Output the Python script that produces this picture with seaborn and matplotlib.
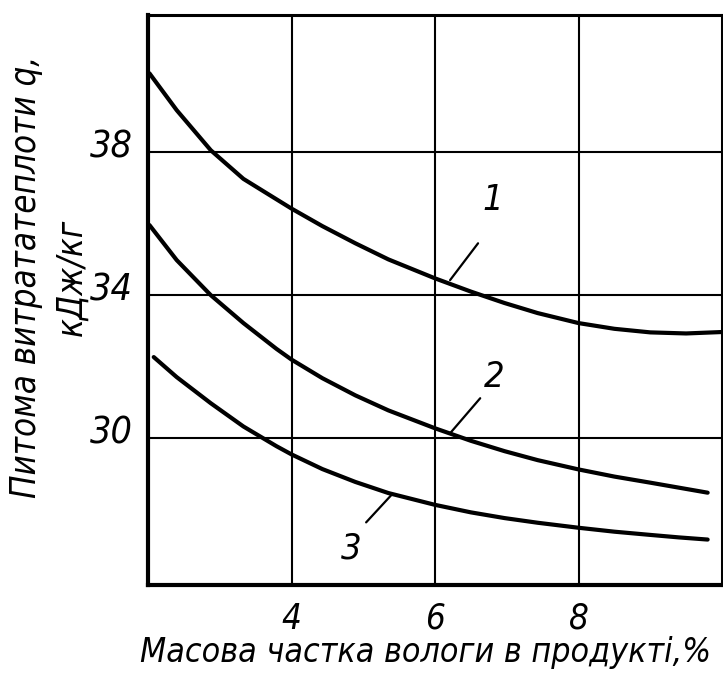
import matplotlib
matplotlib.use("Agg")
import matplotlib.pyplot as plt
import matplotlib.transforms as mtransforms
from matplotlib import font_manager as fm
import seaborn as sns
import pandas as pd

# ---- data ----
x_curve1 = [2.02, 2.4, 2.875, 3.33, 3.79, 4.0, 4.43, 4.89, 5.35, 6.0, 6.5, 6.97, 7.43, 8.0, 8.5, 9.0, 9.5, 10.0]
y_curve1 = [40.2, 39.17, 38.05, 37.25, 36.68, 36.42, 35.93, 35.45, 35.0, 34.47, 34.1, 33.78, 33.5, 33.22, 33.06, 32.96, 32.93, 32.97]

x_curve2 = [2.02, 2.4, 2.875, 3.33, 3.79, 4.0, 4.43, 4.89, 5.35, 6.0, 6.5, 6.97, 7.43, 8.0, 8.5, 9.0, 9.4, 9.8]
y_curve2 = [35.96, 34.98, 34.0, 33.22, 32.5, 32.2, 31.68, 31.2, 30.78, 30.28, 29.93, 29.64, 29.39, 29.13, 28.93, 28.76, 28.62, 28.48]

x_curve3 = [2.08, 2.4, 2.875, 3.33, 3.79, 4.0, 4.43, 4.89, 5.35, 6.0, 6.5, 6.97, 7.43, 8.0, 8.5, 9.0, 9.4, 9.8]
y_curve3 = [32.27, 31.71, 30.98, 30.33, 29.78, 29.55, 29.14, 28.78, 28.47, 28.14, 27.93, 27.77, 27.64, 27.5, 27.39, 27.3, 27.23, 27.17]

curve_labels = ["1", "2", "3"]
x_ticks = [4, 6, 8]
y_ticks = [30, 34, 38]
x_title = "Масова частка вологи в продукті,%"
y_title = "Питома витрататеплоти q,\nкДж/кг"

sns.set_style("white")

# pick a condensed face if one is installed
names = {f.name for f in fm.fontManager.ttflist}
family = "DejaVu Sans"
stretch = "normal"
cond = [f for f in fm.fontManager.ttflist
        if str(f.stretch) in ("condensed", "semi-condensed", "extra-condensed")
        or (isinstance(f.stretch, int) and f.stretch < 500)]
if "Liberation Sans Narrow" in names:
    family, stretch = "Liberation Sans Narrow", "normal"
elif any(f.name == "DejaVu Sans" for f in cond):
    family, stretch = "DejaVu Sans", "condensed"
elif cond:
    family, stretch = cond[0].name, cond[0].stretch
narrow = family != "DejaVu Sans" or stretch != "normal"
k = 1.0 if narrow else 0.88

plt.rcParams["font.family"] = [family, "DejaVu Sans"]
plt.rcParams["font.style"] = "italic"
plt.rcParams["font.stretch"] = stretch
plt.rcParams["text.color"] = "black"
plt.rcParams["xtick.color"] = "black"
plt.rcParams["ytick.color"] = "black"
plt.rcParams["axes.labelcolor"] = "black"

fig = plt.figure(figsize=(7.23, 6.73), dpi=100)
ax = fig.add_axes([148 / 723, 1 - 585 / 673, (722 - 148) / 723, (585 - 15) / 673])

for xs, ys in [(x_curve1, y_curve1), (x_curve2, y_curve2), (x_curve3, y_curve3)]:
    df = pd.DataFrame({"x": xs, "y": ys})
    sns.lineplot(data=df, x="x", y="y", ax=ax, color="black", linewidth=3.0,
                 sort=False, zorder=3, solid_capstyle="round", solid_joinstyle="round")

ax.set_xlim(2, 10)
ax.set_ylim(25.9, 41.83)
ax.set_xticks(x_ticks)
ax.set_yticks(y_ticks)
ax.set_xticklabels([str(t) for t in x_ticks], fontsize=25 * k)
ax.set_yticklabels([str(t) for t in y_ticks], fontsize=27 * k)
ax.tick_params(axis="both", length=0)
ax.tick_params(axis="x", pad=12)
ax.tick_params(axis="y", pad=11)
shift = mtransforms.ScaledTranslation(0, 6 / 72, fig.dpi_scale_trans)
for lab in ax.get_yticklabels():
    lab.set_transform(lab.get_transform() + shift)
ax.grid(True, color="black", linewidth=1.5)
ax.set_axisbelow(True)

for side, lw in [("left", 3.0), ("bottom", 3.0), ("top", 2.2), ("right", 2.2)]:
    ax.spines[side].set_visible(True)
    ax.spines[side].set_color("black")
    ax.spines[side].set_linewidth(lw)

ax.set_xlabel(x_title, fontsize=24.3 * k)
ax.set_ylabel(y_title, fontsize=25 * k, linespacing=1.45)
ax.xaxis.set_label_coords(0.483, -0.09)
ax.yaxis.set_label_coords(-0.103, 0.54)

# curve number labels with leader lines
ann = [
    (curve_labels[0], (6.81, 36.66), (6.60, 35.45), (6.21, 34.42)),
    (curve_labels[1], (6.83, 31.71), (6.63, 31.12), (6.21, 30.14)),
    (curve_labels[2], (4.83, 26.92), (5.04, 27.65), (5.39, 28.41)),
]
for txt, pos, p0, p1 in ann:
    ax.text(pos[0], pos[1], txt, fontsize=26 * k, ha="center", va="center")
    ax.plot([p0[0], p1[0]], [p0[1], p1[1]], color="black", linewidth=1.6)

fig.savefig("out.png", dpi=100, facecolor="white")
